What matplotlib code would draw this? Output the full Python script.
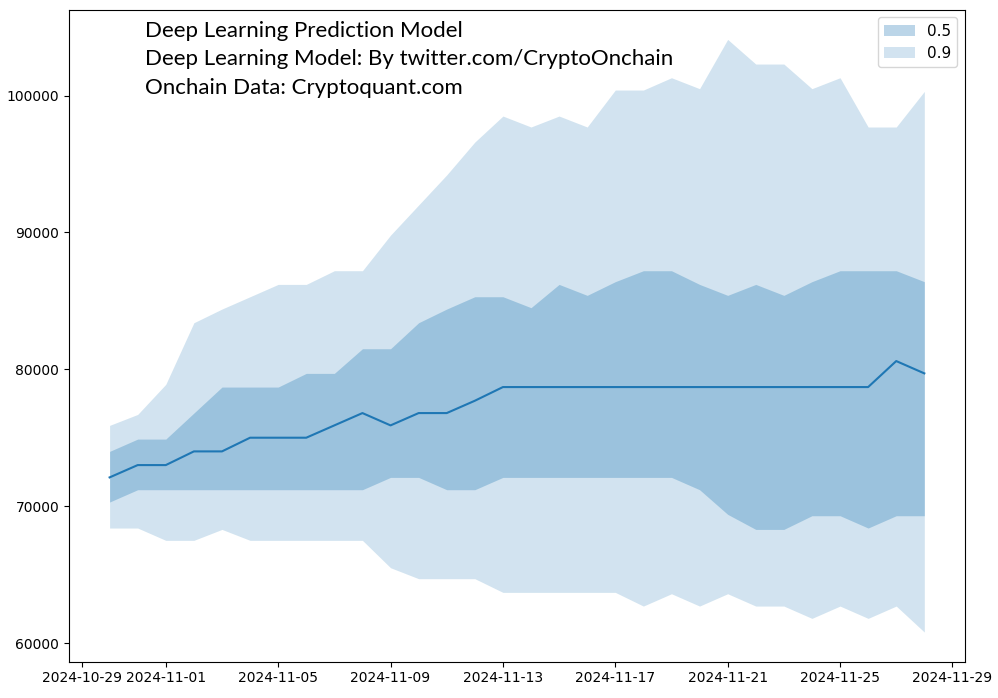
import matplotlib
matplotlib.use('Agg')
import matplotlib.pyplot as plt
import numpy as np
import pandas as pd

# daily forecast, 2024-10-30 .. 2024-11-28
dates = pd.date_range('2024-10-30', periods=30, freq='D')

median = [72100, 73000, 73000, 74000, 74000, 75000, 75000, 75000, 75900, 76800,
          75900, 76800, 76800, 77700, 78700, 78700, 78700, 78700, 78700, 78700,
          78700, 78700, 78700, 78700, 78700, 78700, 78700, 78700, 80600, 79700]

q50_low = [70300, 71200, 71200, 71200, 71200, 71200, 71200, 71200, 71200, 71200,
           72100, 72100, 71200, 71200, 72100, 72100, 72100, 72100, 72100, 72100,
           72100, 71200, 69400, 68300, 68300, 69300, 69300, 68400, 69300, 69300]
q50_high = [74000, 74900, 74900, 76800, 78700, 78700, 78700, 79700, 79700, 81500,
            81500, 83400, 84400, 85300, 85300, 84500, 86200, 85400, 86400, 87200,
            87200, 86200, 85400, 86200, 85400, 86400, 87200, 87200, 87200, 86400]

q90_low = [68400, 68400, 67500, 67500, 68300, 67500, 67500, 67500, 67500, 67500,
           65500, 64700, 64700, 64700, 63700, 63700, 63700, 63700, 63700, 62700,
           63600, 62700, 63600, 62700, 62700, 61800, 62700, 61800, 62700, 60800]
q90_high = [75900, 76700, 78900, 83400, 84400, 85300, 86200, 86200, 87200, 87200,
            89800, 92000, 94200, 96600, 98500, 97700, 98500, 97700, 100400, 100400,
            101300, 100500, 104100, 102300, 102300, 100500, 101300, 97700, 97700, 100300]

title_lines = ['Deep Learning Prediction Model',
               'Deep Learning Model: By twitter.com/CryptoOnchain',
               'Onchain Data: Cryptoquant.com']

fig = plt.figure(figsize=(9.98, 6.98), dpi=100)
ax = fig.add_axes([0.069, 0.052, 0.898, 0.934])

ax.fill_between(dates, q50_low, q50_high, color='C0', alpha=0.3, linewidth=0, label='0.5')
ax.fill_between(dates, q90_low, q90_high, color='C0', alpha=0.2, linewidth=0, label='0.9')
ax.plot(dates, median, color='C0', linewidth=1.5)

ax.legend(loc='upper right', fontsize=11)

ys = [0.959, 0.915, 0.871]
for txt, yy in zip(title_lines, ys):
    ax.text(0.085, yy, txt, transform=ax.transAxes, fontsize=16,
            family='Lato', va='baseline', ha='left', color='black')

fig.savefig('out.png', dpi=100)
